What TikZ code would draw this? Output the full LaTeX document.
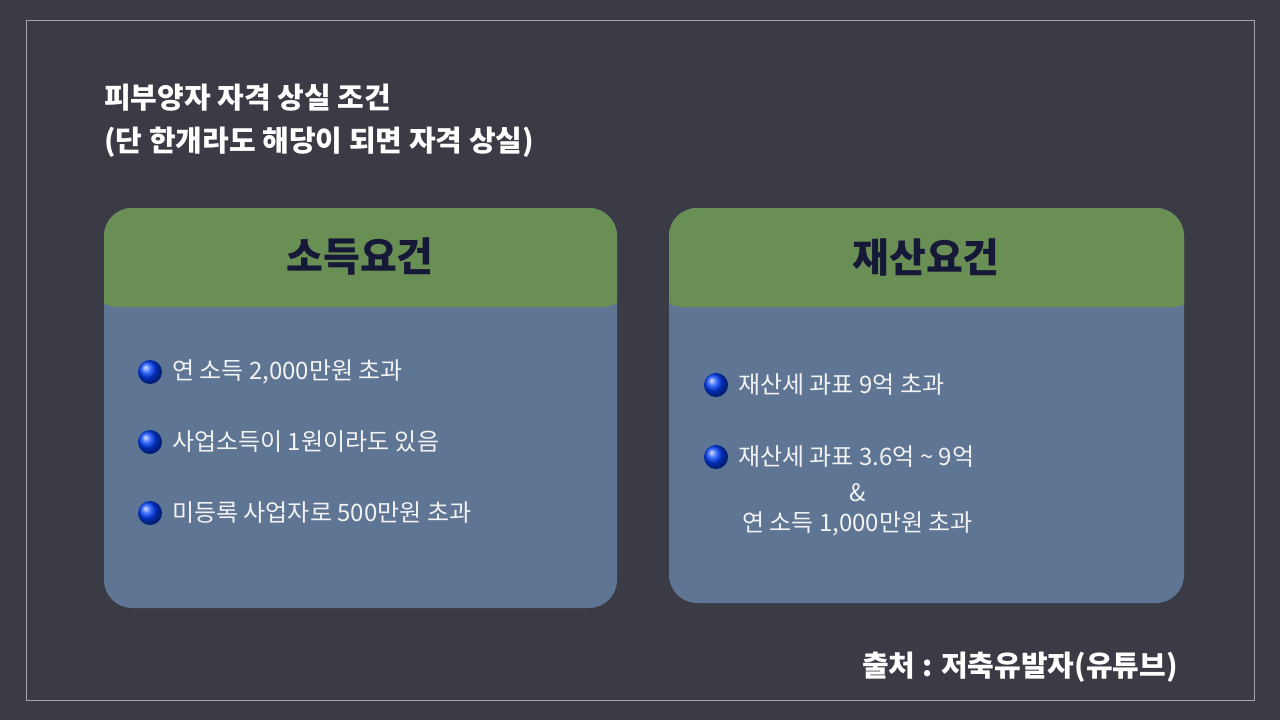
\documentclass[tikz,border=0pt]{standalone}
\usepackage{fontspec}
\setmainfont{Noto Sans CJK KR}
\definecolor{bg}{HTML}{3A3B45}
\definecolor{hdr}{HTML}{6A8F55}
\definecolor{body}{HTML}{5F7594}
\definecolor{navy}{HTML}{161838}
\definecolor{txt}{HTML}{F2F2F2}
\begin{document}
\begin{tikzpicture}[x=1pt,y=-1pt,
  card/.style={fill=body,rounded corners=28pt},
  head/.style={font=\fontsize{40}{48}\selectfont\bfseries,text=navy},
  item/.style={anchor=west,font=\fontsize{24}{30}\selectfont,text=txt,inner sep=0},
  dot/.style={circle,minimum size=24pt,inner sep=0,shading=ball,ball color=blue!75!cyan},
  ttl/.style={anchor=west,font=\fontsize{29}{35}\selectfont\bfseries,text=white,inner sep=0}]
\fill[bg] (0,0) rectangle (1280,720);
\useasboundingbox (0,0) rectangle (1280,720);
\draw[gray!70,line width=1pt] (26,20) rectangle (1254,700);
\node[ttl] (t1) at (104,98) {피부양자 자격 상실 조건};
\node[ttl] (t2) at (104,142) {(단 한개라도 해당이 되면 자격 상실)};
% left card
\fill[card] (104,208) rectangle (617,608);
\begin{scope}
\clip[rounded corners=28pt] (104,208) rectangle (617,608);
\fill[hdr,rounded corners=28pt] (90,190) rectangle (630,307);
\end{scope}
\node[head] (h1) at (360,257) {소득요건};
\node[dot] (d1) at (150,372) {}; \node[item] (l1) at (172,372) {연 소득 2,000만원 초과};
\node[dot] (d2) at (150,442) {}; \node[item] (l2) at (172,442) {사업소득이 1원이라도 있음};
\node[dot] (d3) at (150,513) {}; \node[item] (l3) at (172,513) {미등록 사업자로 500만원 초과};
% right card
\fill[card] (669,208) rectangle (1184,603);
\begin{scope}
\clip[rounded corners=28pt] (669,208) rectangle (1184,603);
\fill[hdr,rounded corners=28pt] (655,190) rectangle (1200,307);
\end{scope}
\node[head] (h2) at (926,257) {재산요건};
\node[dot] (d4) at (716,385) {}; \node[item] (r1) at (738,385) {재산세 과표 9억 초과};
\node[dot] (d5) at (716,457) {}; \node[item] (r2) at (738,457) {재산세 과표 3.6억 \textasciitilde{} 9억};
\node[item,anchor=center] (r3) at (858,493) {\&};
\node[item] (r4) at (742,524) {연 소득 1,000만원 초과};
\node[ttl,anchor=east] (src) at (1178,667) {출처 : 저축유발자(유튜브)};
\end{tikzpicture}
\end{document}
